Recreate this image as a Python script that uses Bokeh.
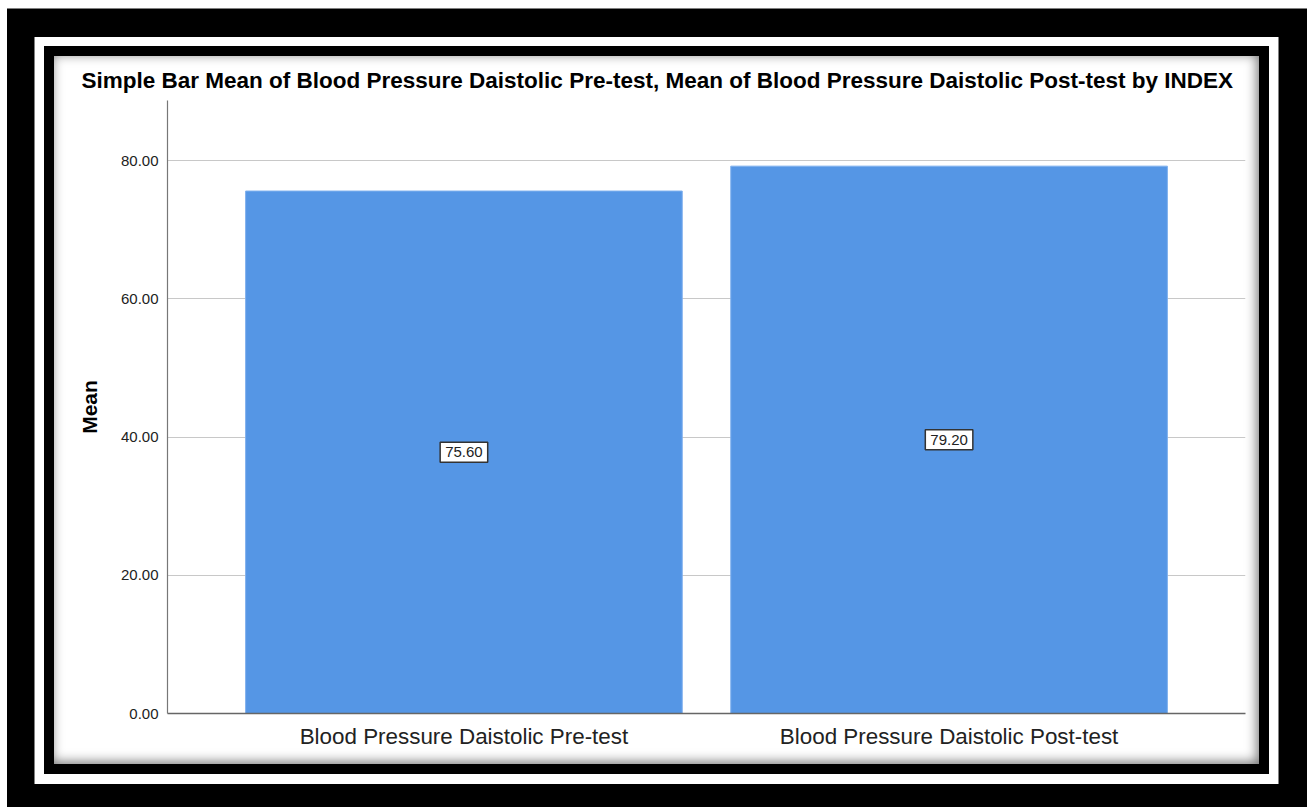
from bokeh.plotting import figure
from bokeh.models import (FactorRange, Range1d, ColumnDataSource, Label,
                          FixedTicker, NumeralTickFormatter)
from bokeh.embed import file_html
from bokeh.resources import INLINE

# ---- data ----
categories = ["Blood Pressure Daistolic Pre-test", "Blood Pressure Daistolic Post-test"]
means = [75.60, 79.20]
y_ticks = [0, 20, 40, 60, 80]
title_text = ("Simple Bar Mean of Blood Pressure Daistolic Pre-test, "
              "Mean of Blood Pressure Daistolic Post-test by INDEX")
y_label = "Mean"

src = ColumnDataSource(dict(cat=categories, mean=means))

FONT = "Liberation Sans"

frame_styles = {
    "background-color": "white",
    "box-shadow": ("inset -2px -2px 12px rgba(0,0,0,0.55), "
                   "0 0 0 10px black, "
                   "0 0.5px 0 19.5px white, "
                   "0.5px 0 0 47.5px black"),
}

p = figure(
    width=1205, height=708,
    x_range=FactorRange(*categories, range_padding=0.111),
    y_range=Range1d(0, 88.7),
    output_backend="svg", toolbar_location=None, title=title_text,
    min_border_left=113, min_border_right=14, min_border_top=44, min_border_bottom=51,
    margin=(56, 0, 0, 54),
    styles=frame_styles,
)
p.background_fill_color = None
p.border_fill_color = None
p.outline_line_color = None

# title, centred over the whole panel (not the plot frame)
p.title.align = "left"
p.title.offset = -86
p.title.text_font = FONT
p.title.text_font_size = "22.5px"
p.title.text_font_style = "bold"
p.title.text_color = "#000000"
p.title.standoff = 16

p.vbar(x="cat", top="mean", width=0.9, source=src,
       fill_color="#5596e5", line_color="#7fb0ee", line_width=1)

# axes
p.yaxis.ticker = FixedTicker(ticks=y_ticks)
p.yaxis.formatter = NumeralTickFormatter(format="0.00")
p.yaxis.axis_label = y_label
p.yaxis.axis_label_text_font = FONT
p.yaxis.axis_label_text_font_style = "bold"
p.yaxis.axis_label_text_font_size = "21px"
p.yaxis.axis_label_text_color = "#000000"
p.yaxis.axis_label_standoff = 17
p.yaxis.major_label_text_font = FONT
p.yaxis.major_label_text_font_size = "15px"
p.yaxis.major_label_text_color = "#222222"
p.yaxis.major_label_standoff = 3
p.yaxis.major_tick_line_color = None
p.yaxis.minor_tick_line_color = None
p.yaxis.axis_line_color = "#777777"
p.yaxis.axis_line_width = 1.2

p.xaxis.major_label_text_font = FONT
p.xaxis.major_label_text_font_size = "22.4px"
p.xaxis.major_label_text_color = "#222222"
p.xaxis.major_label_standoff = 4
p.xaxis.major_tick_line_color = None
p.xaxis.axis_line_color = "#666666"
p.xaxis.axis_line_width = 1.5

p.xgrid.grid_line_color = None
p.ygrid.grid_line_color = "#c8c8c8"
p.ygrid.grid_line_width = 1
p.ygrid.ticker = FixedTicker(ticks=y_ticks)

# value labels in the middle of each bar (synthetic factor centre = index + 0.5)
for i, m in enumerate(means):
    p.add_layout(Label(x=i + 0.5, y=m / 2, text=f"{m:.2f}",
                       text_font=FONT, text_font_size="15px",
                       text_color="#222222", text_align="center",
                       text_baseline="middle",
                       background_fill_color="white",
                       border_line_color="#333333", border_line_width=1.5,
                       padding=5))

open("out.html", "w").write(file_html(p, INLINE))
